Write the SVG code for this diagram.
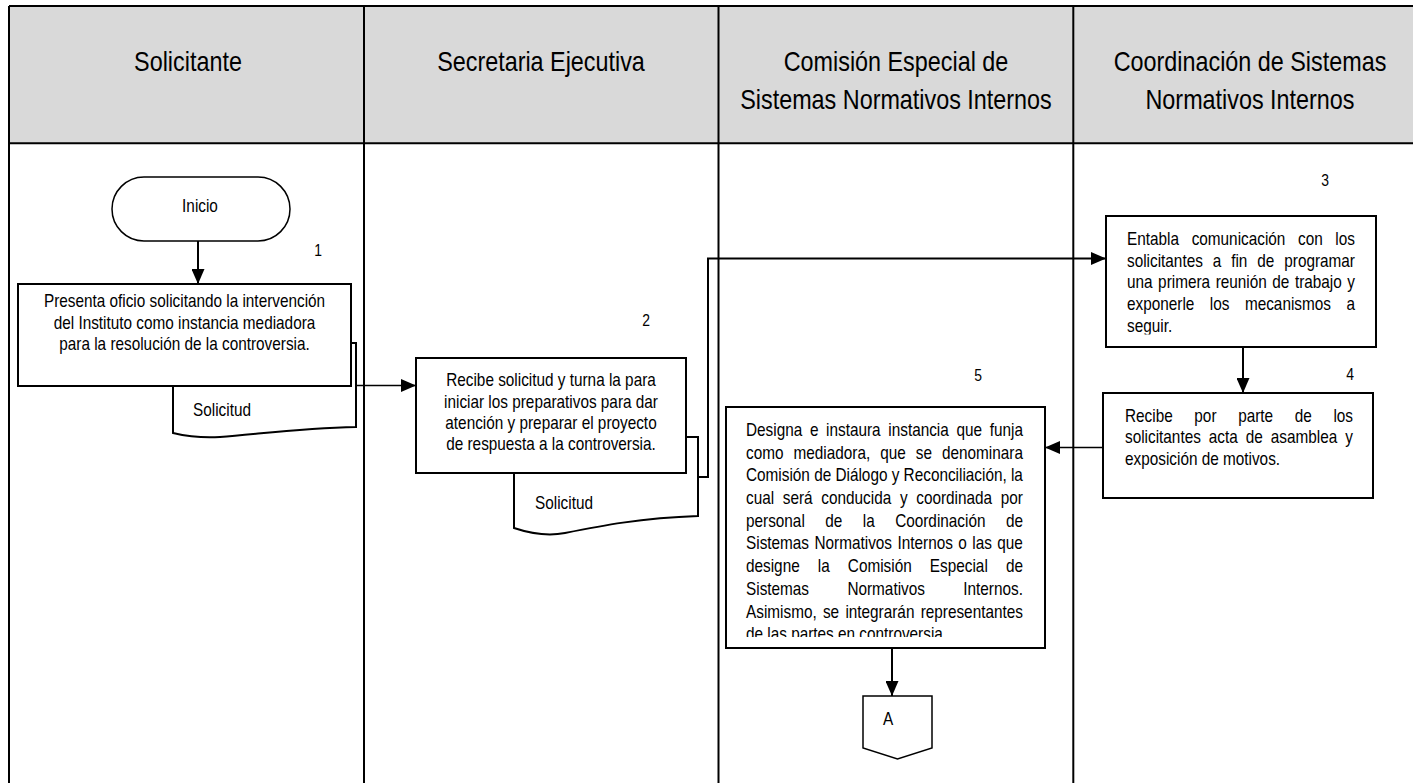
<svg xmlns="http://www.w3.org/2000/svg" width="1413" height="783" viewBox="0 0 1413 783">
<style>
.hdr{font-family:"Liberation Sans",Arial,sans-serif;font-size:28.5px;fill:#000;text-anchor:middle}
.bt{font-family:"Liberation Sans",Arial,sans-serif;font-size:18.7px;fill:#000}
.num{font-family:"Liberation Sans",Arial,sans-serif;font-size:17px;fill:#000;text-anchor:middle}
.mid{text-anchor:middle}
.box{fill:#fff;stroke:#000;stroke-width:2}
.term{fill:#fff;stroke:#000;stroke-width:1.5}
.grid{fill:none;stroke:#000;stroke-width:2}
.ln{fill:none;stroke:#000;stroke-width:1.5}
.ln2{fill:none;stroke:#000;stroke-width:2}
</style>
<defs>
<marker id="ah" viewBox="0 0 15 13" refX="15" refY="6.5" markerWidth="15" markerHeight="13" markerUnits="userSpaceOnUse" orient="auto"><path d="M0,0 L15,6.5 L0,13 Z" fill="#000"/></marker>
<clipPath id="clip3"><rect x="1106" y="216" width="270" height="118.5"/></clipPath>
<clipPath id="clip5"><rect x="726" y="407" width="319" height="230"/></clipPath>
</defs>
<rect width="1413" height="783" fill="#fff"/>
<g id="table">
<rect x="9" y="6" width="1404" height="137.3" fill="#d9d9d9"/>
<path class="grid" d="M9,6 H1413 M9,143.3 H1413 M9,6 V783 M364,6 V783 M718.5,6 V783 M1073.3,6 V783"/>
</g>
<g id="headers">
<text class="hdr" transform="matrix(0.82 0 0 1 188 0)"><tspan x="0" y="71">Solicitante</tspan></text>
<text class="hdr" transform="matrix(0.82 0 0 1 541 0)"><tspan x="0" y="71">Secretaria Ejecutiva</tspan></text>
<text class="hdr" transform="matrix(0.82 0 0 1 896 0)"><tspan x="0" y="71">Comisión Especial de</tspan><tspan x="0" y="109">Sistemas Normativos Internos</tspan></text>
<text class="hdr" transform="matrix(0.82 0 0 1 1250 0)"><tspan x="0" y="71">Coordinación de Sistemas</tspan><tspan x="0" y="109">Normativos Internos</tspan></text>
</g>
<g id="inicio">
<rect class="term" x="112" y="177" width="178" height="64" rx="32" ry="32"/>
<text class="bt mid" transform="matrix(0.82 0 0 1 200 0)"><tspan x="0" y="212">Inicio</tspan></text>
</g>
<g id="step1">
<path class="box" d="M173,343 H356 V427 C300,428 260,434 220,437 C205,438 190,437 173,433 Z"/>
<text class="bt" transform="matrix(0.82 0 0 1 193 0)"><tspan x="0" y="416">Solicitud</tspan></text>
<rect class="box" x="18" y="284" width="333" height="102"/>
<text class="bt mid" transform="matrix(0.82 0 0 1 184.5 0)"><tspan x="0" y="307.5">Presenta oficio solicitando la intervención</tspan><tspan x="0" y="329">del Instituto como instancia mediadora</tspan><tspan x="0" y="350.5">para la resolución de la controversia.</tspan></text>
<text class="num" transform="matrix(0.82 0 0 1 318 0)"><tspan x="0" y="256">1</tspan></text>
</g>
<g id="step2">
<path class="box" d="M514,437 H698 V516 C640,518 600,526 565,533 C550,536 535,535 514,528 Z"/>
<text class="bt" transform="matrix(0.82 0 0 1 535 0)"><tspan x="0" y="509">Solicitud</tspan></text>
<rect class="box" x="416" y="358" width="270" height="115"/>
<text class="bt mid" transform="matrix(0.82 0 0 1 551 0)"><tspan x="0" y="386.5">Recibe solicitud y turna la para</tspan><tspan x="0" y="408">iniciar los preparativos para dar</tspan><tspan x="0" y="429">atención y preparar el proyecto</tspan><tspan x="0" y="450.5">de respuesta a la controversia.</tspan></text>
<text class="num" transform="matrix(0.82 0 0 1 646 0)"><tspan x="0" y="326">2</tspan></text>
</g>
<g id="step3">
<rect class="box" x="1106" y="216" width="270" height="131"/>
<g clip-path="url(#clip3)">
<text class="bt" transform="matrix(0.82 0 0 1 1127 0)"><tspan x="0" y="245" style="word-spacing:0.547em">Entabla comunicación con los</tspan><tspan x="0" y="266.7" style="word-spacing:0.369em">solicitantes a fin de programar</tspan><tspan x="0" y="288.4" style="word-spacing:0.084em">una primera reunión de trabajo y</tspan><tspan x="0" y="310.1" style="word-spacing:0.733em">exponerle los mecanismos a</tspan><tspan x="0" y="331.8">seguir.</tspan></text>
</g>
<text class="num" transform="matrix(0.82 0 0 1 1325 0)"><tspan x="0" y="186">3</tspan></text>
</g>
<g id="step4">
<rect class="box" x="1103" y="393" width="270" height="105"/>
<text class="bt" transform="matrix(0.82 0 0 1 1125 0)"><tspan x="0" y="422" style="word-spacing:1.133em">Recibe por parte de los</tspan><tspan x="0" y="443.5" style="word-spacing:0.2435em">solicitantes acta de asamblea y</tspan><tspan x="0" y="465">exposición de motivos.</tspan></text>
<text class="num" transform="matrix(0.82 0 0 1 1350 0)"><tspan x="0" y="380">4</tspan></text>
</g>
<g id="step5">
<rect class="box" x="726" y="407" width="319" height="241"/>
<g clip-path="url(#clip5)">
<text class="bt" transform="matrix(0.82 0 0 1 746 0)"><tspan x="0" y="436" style="word-spacing:0.222em">Designa e instaura instancia que funja</tspan><tspan x="0" y="458.7" style="word-spacing:0.375em">como mediadora, que se denominara</tspan><tspan x="0" y="481.4">Comisión de Diálogo y Reconciliación, la</tspan><tspan x="0" y="504.1" style="word-spacing:0.289em">cual será conducida y coordinada por</tspan><tspan x="0" y="526.8" style="word-spacing:1.056em">personal de la Coordinación de</tspan><tspan x="0" y="549.5" style="word-spacing:0.078em">Sistemas Normativos Internos o las que</tspan><tspan x="0" y="572.2" style="word-spacing:0.9035em">designe la Comisión Especial de</tspan><tspan x="0" y="594.9" style="word-spacing:2.2245em">Sistemas Normativos Internos.</tspan><tspan x="0" y="617.6" style="word-spacing:0.13em">Asimismo, se integrarán representantes</tspan><tspan x="0" y="640.3">de las partes en controversia.</tspan></text>
</g>
<text class="num" transform="matrix(0.82 0 0 1 978 0)"><tspan x="0" y="381">5</tspan></text>
</g>
<g id="connectorA">
<path class="term" d="M863,696 H932 V748 L897.5,759 L863,748 Z"/>
<text class="bt" transform="matrix(0.82 0 0 1 883 0)"><tspan x="0" y="725">A</tspan></text>
</g>
<g id="connectors">
<path class="ln2" d="M198,241 V284" marker-end="url(#ah)"/>
<path class="ln" d="M356,385.5 H416" marker-end="url(#ah)"/>
<path class="ln2" d="M698,477 H708 V258.5 H1106" marker-end="url(#ah)"/>
<path class="ln2" d="M1243,347 V393" marker-end="url(#ah)"/>
<path class="ln" d="M1103,447.5 H1045" marker-end="url(#ah)"/>
<path class="ln2" d="M892,648 V696" marker-end="url(#ah)"/>
</g>
</svg>
